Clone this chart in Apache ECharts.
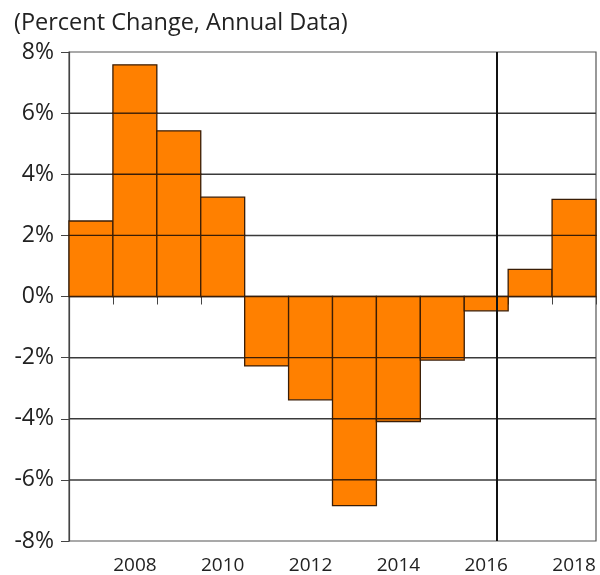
<!DOCTYPE html>
<html>
<head>
<meta charset="utf-8">
<script src="https://cdn.jsdelivr.net/npm/echarts@6/dist/echarts.min.js"></script>
<style>
  html, body { margin: 0; padding: 0; background: #fff; }
  #chart { width: 600px; height: 575px; }
</style>
</head>
<body>
<div id="chart"></div>
<script>
// Annual percent change by year
const years = ['2007', '2008', '2009', '2010', '2011', '2012', '2013', '2014', '2015', '2016', '2017', '2018'];
const pctChange = [2.47, 7.58, 5.42, 3.25, -2.27, -3.38, -6.84, -4.09, -2.08, -0.47, 0.89, 3.18];

// Y-axis range and step (percent)
const yMin = -8;
const yMax = 8;
const yStep = 2;

// Continuous year scale spanning the category bands
const yearMin = 2006.5;
const yearMax = 2018.5;

// Marker for the break between actual and projected data (fractional year)
const breakYear = [2016.25];

const chart = echarts.init(document.getElementById('chart'));
const fontFamily = '"Open Sans", Lato, sans-serif';

const barFill = '#FF8000';
const barEdge = '#3a1d06';
const ruleColor = '#3a3a3a';

// Interior y steps, ruled across the plot
const ruleValues = [];
for (let v = yMin + yStep; v < yMax; v += yStep) ruleValues.push(v);

function renderRule(params, api) {
  const cs = params.coordSys;
  const y = api.coord([yearMin, api.value(1)])[1];
  return {
    type: 'line',
    shape: { x1: cs.x, y1: y, x2: cs.x + cs.width, y2: y },
    style: { stroke: ruleColor, lineWidth: 1.5 }
  };
}

// Each bar is built from outlined pieces split at the y steps,
// so the rules show through the filled bars.
function renderBar(params, api) {
  const idx = api.value(0);
  const val = api.value(1);
  const w = api.size([1, 0])[0];
  const cx = api.coord([idx, 0])[0];
  const cuts = [0].concat(
    ruleValues.filter(r => (val > 0 ? r > 0 && r < val : r < 0 && r > val)),
    [val]
  ).sort((a, b) => Math.abs(a) - Math.abs(b));
  const children = [];
  for (let k = 0; k < cuts.length - 1; k++) {
    const y1 = api.coord([idx, cuts[k]])[1];
    const y2 = api.coord([idx, cuts[k + 1]])[1];
    children.push({
      type: 'rect',
      shape: { x: cx - w / 2, y: Math.min(y1, y2), width: w, height: Math.abs(y2 - y1) },
      style: { fill: barFill, stroke: barEdge, lineWidth: 1.3 }
    });
  }
  return { type: 'group', children };
}

chart.setOption({
  animation: false,
  backgroundColor: '#ffffff',
  title: {
    text: '(Percent Change, Annual Data)',
    left: 9,
    top: 6,
    textStyle: { fontFamily, fontSize: 23.5, fontWeight: 'normal', color: '#222' }
  },
  grid: {
    left: 69, right: 4, top: 52, bottom: 34,
    show: true, borderColor: '#555', borderWidth: 1.2
  },
  xAxis: [
    {
      type: 'category',
      data: years,
      boundaryGap: true,
      axisLine: { show: true, lineStyle: { color: '#444', width: 1.2 } },
      axisTick: { show: true, interval: 0, alignWithLabel: false, length: 8, lineStyle: { color: '#444' } },
      axisLabel: {
        interval: (i) => i % 2 === 1,
        fontFamily, fontSize: 19, color: '#222', margin: 15
      },
      splitLine: { show: false }
    },
    {
      type: 'value',
      min: yearMin,
      max: yearMax,
      show: false,
      position: 'bottom'
    }
  ],
  yAxis: {
    type: 'value',
    min: yMin,
    max: yMax,
    interval: yStep,
    axisLine: { show: true, lineStyle: { color: '#444', width: 1.2 } },
    axisTick: { show: true, length: 8, lineStyle: { color: '#444' } },
    axisLabel: {
      formatter: '{value}%',
      fontFamily, fontSize: 23, color: '#222', margin: 15
    },
    splitLine: { show: false }
  },
  series: [
    {
      type: 'custom',
      xAxisIndex: 1,
      data: ruleValues.map(v => [yearMin, v]),
      renderItem: renderRule,
      clip: false,
      silent: true,
      z: 1
    },
    {
      type: 'custom',
      xAxisIndex: 0,
      encode: { x: 0, y: 1 },
      data: pctChange.map((v, i) => [years[i], v]),
      renderItem: renderBar,
      silent: true,
      z: 3
    },
    {
      type: 'line',
      xAxisIndex: 1,
      data: [],
      z: 10,
      markLine: {
        silent: true,
        z: 6,
        symbol: ['none', 'none'],
        label: { show: false },
        lineStyle: { color: '#111', width: 2, type: 'solid' },
        data: breakYear.map(v => ({ xAxis: v }))
      }
    }
  ]
});
</script>
</body>
</html>
